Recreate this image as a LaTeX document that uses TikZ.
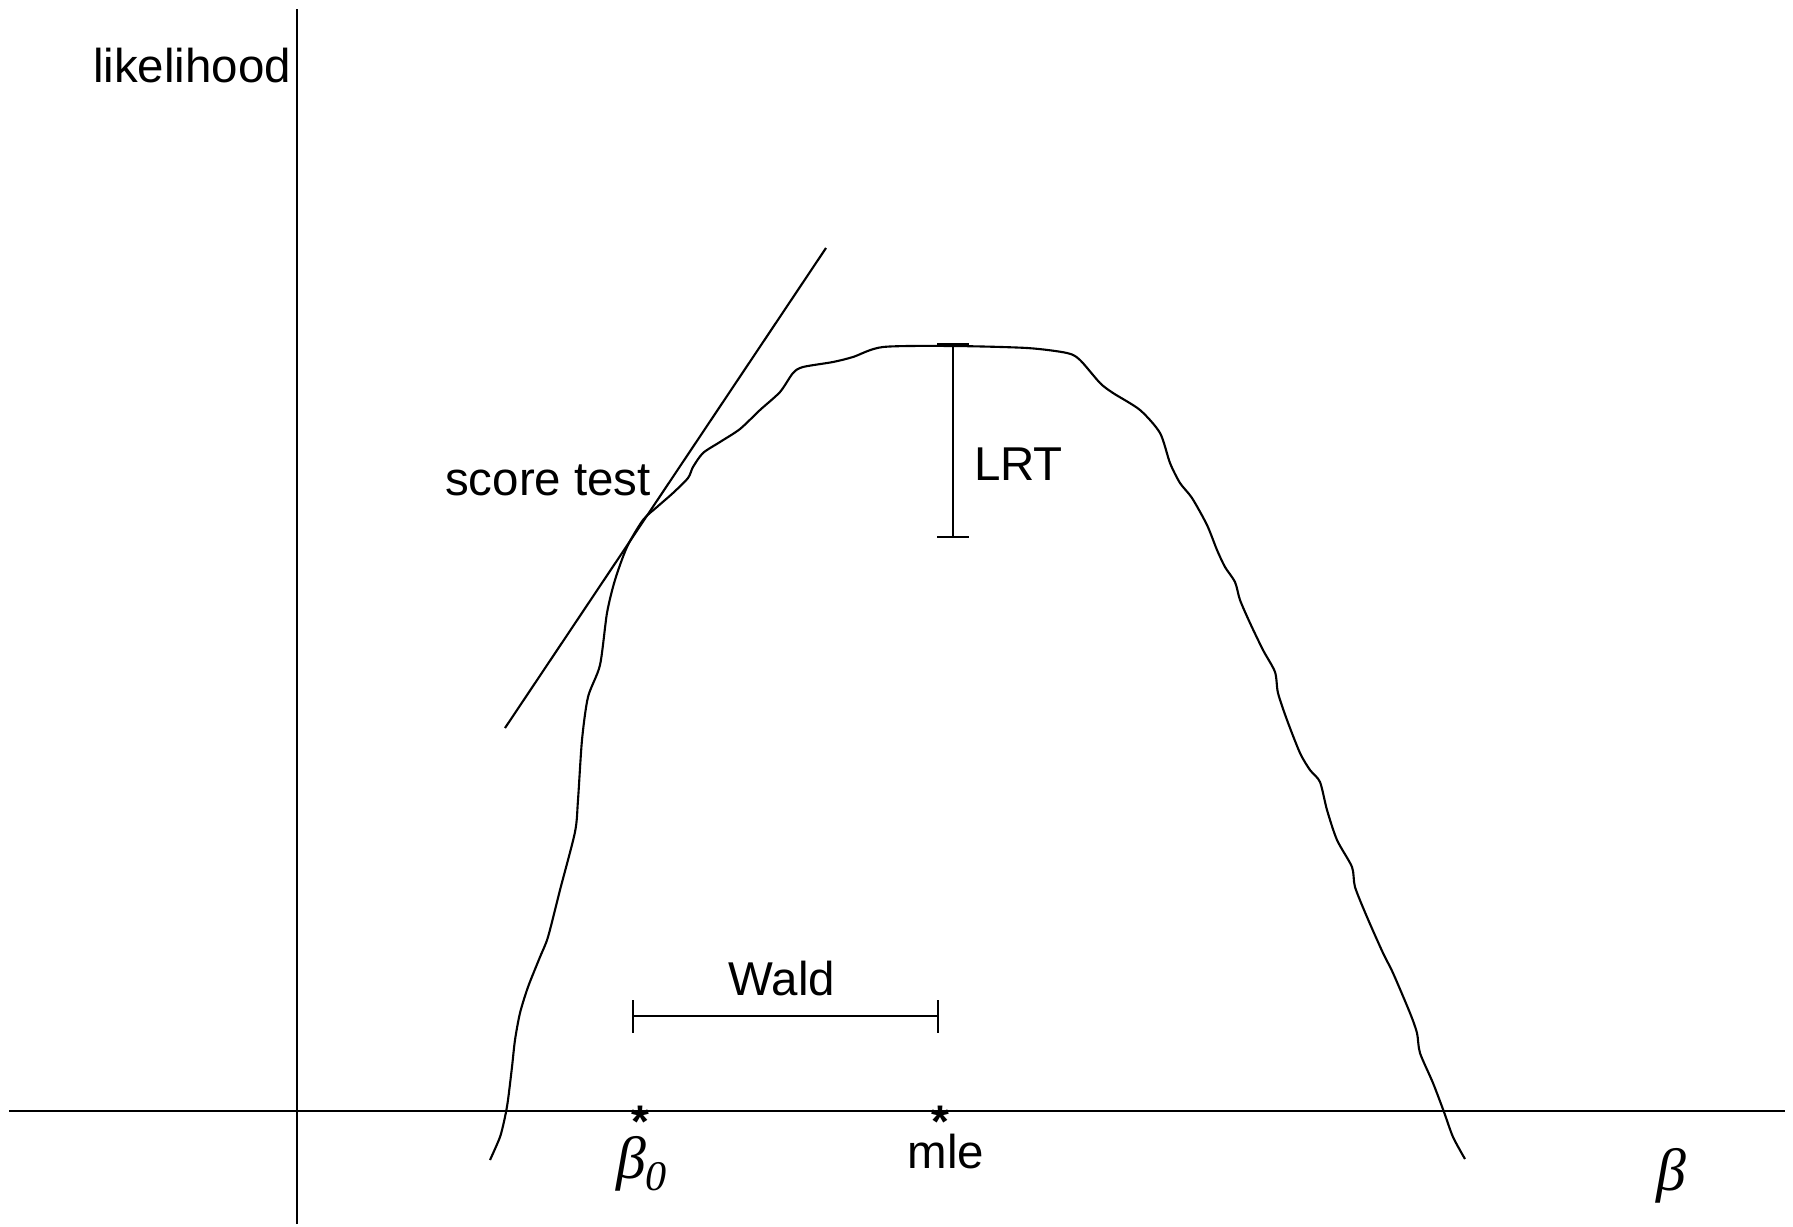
\documentclass[tikz,border=0pt]{standalone}
\usepackage{fontspec}
\setmainfont{Liberation Sans}
\newfontfamily\greekfont{Liberation Serif}
\begin{document}
\begin{tikzpicture}[x=0.01cm, y=-0.01cm, line width=0.6pt,
  lbl/.style={font=\fontsize{13.5}{16}\selectfont, inner sep=0pt},
  gr/.style={font=\fontsize{17}{20}\selectfont\greekfont\itshape, inner sep=0pt},
  starmark/.style={font=\fontsize{13}{16}\selectfont\bfseries, inner sep=0pt}]
  \useasboundingbox (0,0) rectangle (1793,1227);

  % axes
  \coordinate (xleft) at (9,1111);
  \coordinate (xright) at (1785,1111);
  \coordinate (ybot) at (297,1224);
  \coordinate (ytop) at (297,9);
  \draw (xleft) -- (xright);
  \draw (ybot) -- (ytop);
  \node[lbl, anchor=base] (ylab) at (192,83) {likelihood};
  \node[gr, anchor=base west] (xlab) at (1655,1190) {β};

  % likelihood curve
  \draw plot[smooth, tension=0.45] coordinates {
    (490,1160) (500,1137) (505,1117) (508,1100) (512,1067) (515,1040)
    (520,1013) (528,987) (540,957) (548,937) (560,890) (575,832)
    (578,800) (582,740) (588,697) (600,665) (607,613) (615,580)
    (627,547) (643,520) (657,507) (673,493) (688,478) (693,467)
    (703,453) (720,442) (740,429) (760,410) (780,392) (793,373)
    (803,367) (833,362) (853,357) (883,347) (953,346) (1027,348)
    (1067,353) (1080,360) (1100,383) (1113,393) (1140,410) (1160,433)
    (1170,463) (1180,483) (1192,498) (1207,525) (1217,550) (1225,567)
    (1235,582) (1240,600) (1250,623) (1263,650) (1275,672) (1278,693)
    (1287,720) (1300,753) (1310,770) (1320,782) (1327,810) (1337,840)
    (1352,867) (1355,887) (1367,917) (1383,953) (1393,973) (1410,1013)
    (1417,1033) (1420,1053) (1433,1083) (1444,1112) (1453,1137) (1465,1159)};

  % score test tangent
  \coordinate (tanlow) at (505,728);
  \coordinate (tanhigh) at (826,248);
  \draw (tanlow) -- (tanhigh);
  \node[lbl, anchor=base east] (score) at (652,495) {score test};

  % LRT
  \coordinate (lrttop) at (953,344);
  \coordinate (lrtbot) at (953,537);
  \draw (lrttop) -- (lrtbot);
  \draw (lrttop) ++(-16,0) -- ++(32,0);
  \draw (lrtbot) ++(-16,0) -- ++(32,0);
  \node[lbl, anchor=base west] (lrt) at (973,480) {LRT};

  % Wald
  \coordinate (waldl) at (633,1016);
  \coordinate (waldr) at (938,1016);
  \draw (waldl) -- (waldr);
  \draw (waldl) ++(0,-16) -- ++(0,33);
  \draw (waldr) ++(0,-16) -- ++(0,33);
  \node[lbl, anchor=base] (wald) at (782,995) {Wald};

  % points on the beta axis
  \node[starmark] (star0) at (640,1111) {\raisebox{-0.43em}[0.29em][0pt]{*}};
  \node[starmark] (starmle) at (940,1111) {\raisebox{-0.43em}[0.29em][0pt]{*}};
  \node[gr, anchor=base west] (b0) at (615,1178)
    {β\raisebox{-3.6pt}{\fontsize{12}{12}\selectfont 0}};
  \node[lbl, anchor=base] (mle) at (946,1168) {mle};
\end{tikzpicture}
\end{document}
